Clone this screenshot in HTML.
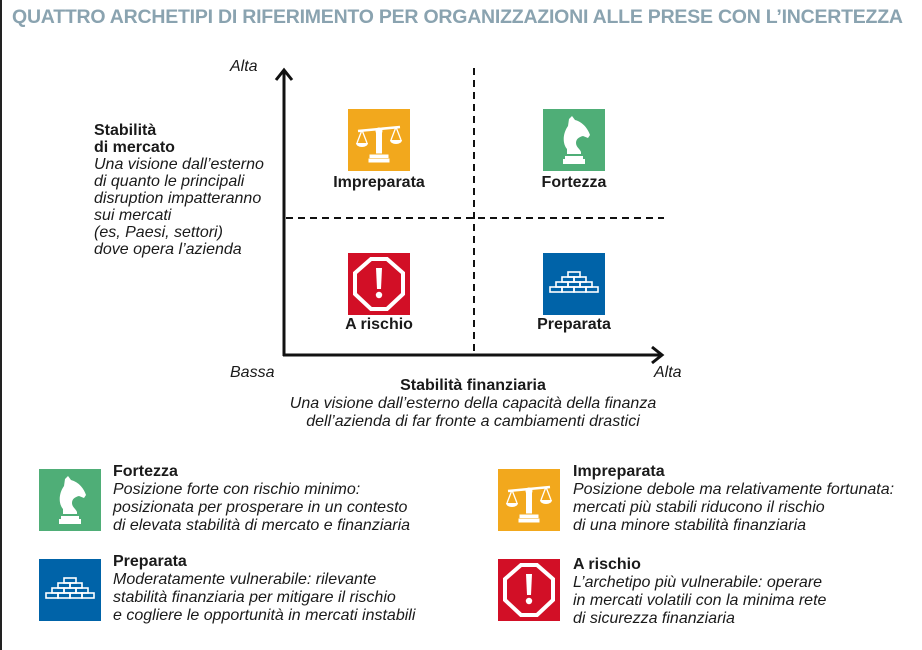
<!DOCTYPE html>
<html><head><meta charset="utf-8"><style>
*{margin:0;padding:0}
body{width:922px;height:650px;background:#fff;position:relative;overflow:hidden;font-family:"Liberation Sans",sans-serif;color:#1a1a1a}
.a{position:absolute;white-space:nowrap}
.t{font-size:16px;line-height:17px}
.b{font-weight:bold}
.i{font-style:italic}
.l{font-size:16px;font-weight:bold}
</style></head><body>
<div class="a" style="left:0;top:0;width:2px;height:650px;background:#222"></div>
<div class="a b" style="left:12px;top:6px;font-size:19.5px;color:#8aa3b0;letter-spacing:-0.23px">QUATTRO ARCHETIPI DI RIFERIMENTO PER ORGANIZZAZIONI ALLE PRESE CON L’INCERTEZZA</div>

<svg class="a" style="left:0;top:0" width="922" height="650">
<defs>
<symbol id="scale" viewBox="0 0 62 62"><rect width="62" height="62" fill="#f2a81d"/>
<g fill="#fff" stroke="#fff"><circle cx="31" cy="22" r="3"/><path d="M10 22 L52 18" stroke-width="2.5" fill="none"/><rect x="28.5" y="22" width="5" height="22"/><rect x="22" y="46" width="18" height="2.5"/><rect x="21" y="50" width="20" height="3"/>
<path d="M14 21 L9 34 M14 21 L19 34 M48 18 L43 31 M48 18 L53 31" stroke-width="1.3" fill="none"/>
<path d="M8 34 h12 a6 4 0 0 1 -12 0z M42 31 h12 a6 4 0 0 1 -12 0z" stroke="none"/></g></symbol>
<symbol id="knight" viewBox="0 0 62 62"><rect width="62" height="62" fill="#4fae77"/>
<path fill="#fff" d="M29 7 L32 11 C40 13 45 20 47 26 L45 29 L40 27 C36 28 33 30 33 34 C33 38 37 40 38 43 L38 45 L24 45 L24 40 C19 34 20 24 25 17 L26 10 Z M22 47 h18 v3 h2 v5 h-22 v-5 h2 z"/></symbol>
<symbol id="stop" viewBox="0 0 62 62"><rect width="62" height="62" fill="#d20f26"/>
<polygon points="23,6 39,6 55,20 55,41 39,56 23,56 7,41 7,20" fill="none" stroke="#fff" stroke-width="4"/>
<path fill="#fff" d="M28 15 h6 l-1 21 h-4 z"/><circle cx="31" cy="42" r="3.2" fill="#fff"/></symbol>
<symbol id="brick" viewBox="0 0 62 62"><rect width="62" height="62" fill="#0063a8"/>
<g fill="none" stroke="#fff" stroke-width="1.6"><rect x="25" y="19" width="12" height="5"/><rect x="19" y="24" width="12" height="5"/><rect x="31" y="24" width="12" height="5"/><rect x="13" y="29" width="12" height="5"/><rect x="25" y="29" width="12" height="5"/><rect x="37" y="29" width="12" height="5"/><rect x="7" y="34" width="12" height="5"/><rect x="19" y="34" width="12" height="5"/><rect x="31" y="34" width="12" height="5"/><rect x="43" y="34" width="12" height="5"/></g></symbol>
</defs>
<g stroke="#111" stroke-width="3" fill="none">
<line x1="284" y1="72" x2="284" y2="356"/><line x1="283" y1="355" x2="660" y2="355"/>
<path d="M276 80 L284 70 L292 80"/><path d="M652 347 L662 355 L652 363"/>
</g>
<g stroke="#111" stroke-width="2" stroke-dasharray="7,5">
<line x1="474" y1="68" x2="474" y2="354"/><line x1="286" y1="218" x2="664" y2="218"/>
</g>
<use href="#scale" x="348" y="109" width="62" height="62"/>
<use href="#knight" x="543" y="109" width="62" height="62"/>
<use href="#stop" x="348" y="253" width="62" height="62"/>
<use href="#brick" x="543" y="253" width="62" height="62"/>
<use href="#knight" x="39" y="469" width="62" height="62"/>
<use href="#brick" x="39" y="559" width="62" height="62"/>
<use href="#scale" x="498" y="469" width="62" height="62"/>
<use href="#stop" x="498" y="559" width="62" height="62"/>
</svg>

<div class="a l" style="left:379px;top:174px;transform:translateX(-50%)">Impreparata</div>
<div class="a l" style="left:574px;top:174px;transform:translateX(-50%)">Fortezza</div>
<div class="a l" style="left:379px;top:316px;transform:translateX(-50%)">A rischio</div>
<div class="a l" style="left:574px;top:316px;transform:translateX(-50%)">Preparata</div>

<div class="a t i" style="left:230px;top:58px">Alta</div>
<div class="a t i" style="left:230px;top:364px">Bassa</div>
<div class="a t i" style="left:654px;top:364px">Alta</div>

<div class="a t" style="left:94px;top:122px"><b>Stabilità<br>di mercato</b><br><i>Una visione dall’esterno<br>di quanto le principali<br>disruption impatteranno<br>sui mercati<br>(es, Paesi, settori)<br>dove opera l’azienda</i></div>

<div class="a t" style="left:473px;top:377px;transform:translateX(-50%);text-align:center;line-height:18px"><b>Stabilità finanziaria</b><br><i>Una visione dall’esterno della capacità della finanza<br>dell’azienda di far fronte a cambiamenti drastici</i></div>

<div class="a t" style="left:113px;top:463px;line-height:18px"><b>Fortezza</b><br><i>Posizione forte con rischio minimo:<br>posizionata per prosperare in un contesto<br>di elevata stabilità di mercato e finanziaria</i></div>
<div class="a t" style="left:113px;top:553px;line-height:18px"><b>Preparata</b><br><i>Moderatamente vulnerabile: rilevante<br>stabilità finanziaria per mitigare il rischio<br>e cogliere le opportunità in mercati instabili</i></div>
<div class="a t" style="left:573px;top:463px;line-height:18px"><b>Impreparata</b><br><i>Posizione debole ma relativamente fortunata:<br>mercati più stabili riducono il rischio<br>di una minore stabilità finanziaria</i></div>
<div class="a t" style="left:573px;top:556px;line-height:18px"><b>A rischio</b><br><i>L’archetipo più vulnerabile: operare<br>in mercati volatili con la minima rete<br>di sicurezza finanziaria</i></div>
</body></html>
